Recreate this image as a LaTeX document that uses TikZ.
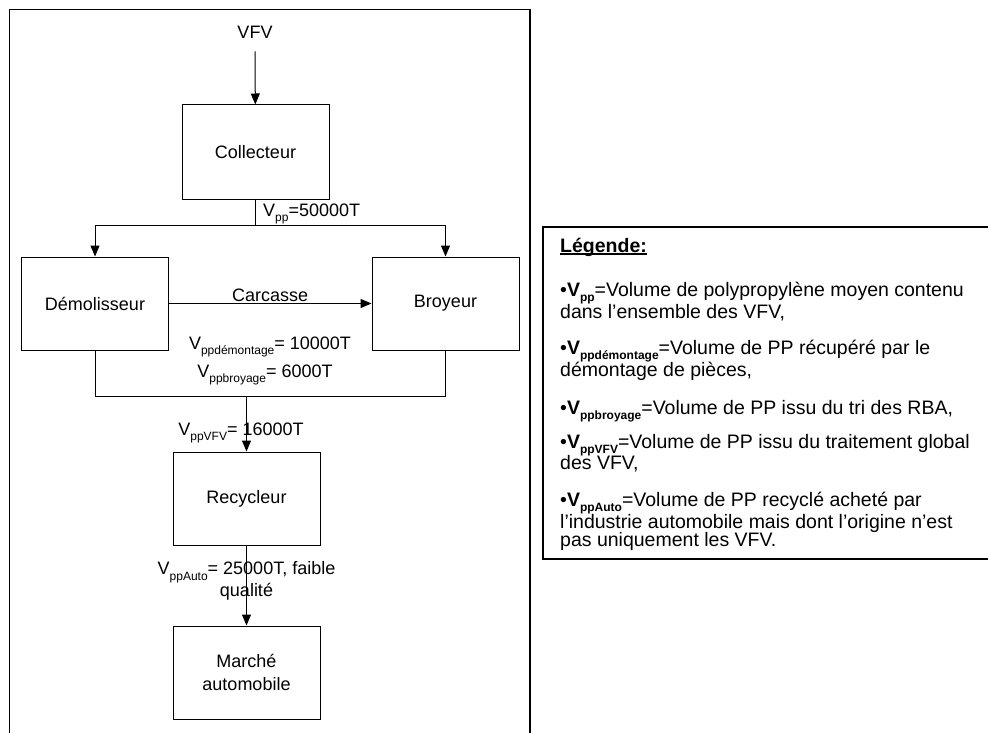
\documentclass[tikz,border=0pt]{standalone}
\usepackage{fontspec}
\setmainfont{Liberation Sans}
\usetikzlibrary{arrows.meta}
\newcommand{\ind}[1]{\raisebox{-0.3em}{\fontsize{12}{12}\selectfont #1}}
\newcommand{\souligne}[1]{\setbox0\hbox{#1}\rlap{\rule[-2.5pt]{\wd0}{1.3pt}}\box0}

\begin{document}
\begin{tikzpicture}[x=1pt,y=-1pt]
\tikzstyle{taille}=[minimum width=147pt, minimum height=93pt,anchor=center]

\tikzstyle{bloc}=[taille,rectangle,draw=black,line width=1pt,align=center,font=\fontsize{18}{23}\selectfont]
\tikzstyle{etiq}=[rectangle,inner sep=1pt,align=center,font=\fontsize{18}{22}\selectfont]
\tikzstyle{ligne}=[anchor=base west,inner sep=0pt,font=\fontsize{19.5}{22}\selectfont]
\tikzstyle{fleche}=[line width=1pt,-{Triangle[length=11pt,width=9pt]}]
\tikzstyle{trait}=[line width=1pt]

\useasboundingbox (0,0) rectangle (988,733);
\fill[white] (0,0) rectangle (988,733);

% cadre du schema
\draw[line width=1.3pt] (9.5,745) |- (530,9.5) -- (530,745);

\node [etiq] at (255,32) (vfv) {VFV};
\node [bloc,minimum height=94pt] at (255.5,152) (collecteur) {Collecteur};
\node [bloc] at (95,303.5) (demol) {Démolisseur};
\node [bloc] at (445.5,303.5) (broyeur) {Broyeur};
\node [bloc] at (246.5,498.5) (recycleur) {Recycleur};
\node [bloc] at (246.5,672.5) (marche) {Marché\\automobile};

\coordinate (partage) at (255.5,225);
\coordinate (jonction) at (246.5,396);

\draw [fleche,shorten <=12pt] (vfv) -- (collecteur);
\draw [trait] (collecteur) -- (partage);
\draw [fleche] (partage) -| (demol);
\draw [fleche] (partage) -| (broyeur);
\draw [fleche] (demol) -- node [etiq,above] (carcasse) {Carcasse} (broyeur);
\draw [trait] (demol) |- (jonction);
\draw [trait] (broyeur) |- (jonction);
\draw [fleche] (jonction) -- (recycleur);
\draw [fleche] (recycleur) -- (marche);

\node [etiq,anchor=west] at (262,214) (vpp) {V\ind{pp}=50000T};
\node [etiq] at (270,347) (vdem) {V\ind{ppdémontage}= 10000T};
\node [etiq] at (265,375) (vbro) {V\ind{ppbroyage}= 6000T};
\node [etiq] at (241,433) (vvfv) {V\ind{ppVFV}= 16000T};
\node [etiq] at (246.5,581) (vauto) {V\ind{ppAuto}= 25000T, faible\\qualité};

% legende
\draw [line width=2.5pt] (543,227) rectangle (1000,559);
\node [ligne] at (560,252) (titre) {\souligne{\textbf{Légende:}}};
\node [ligne] at (560,296) (leg1) {•\textbf{V\ind{pp}}=Volume de polypropylène moyen contenu};
\node [ligne] at (560,318) (leg1b) {dans l’ensemble des VFV,};
\node [ligne] at (560,354) (leg2) {•\textbf{V\ind{ppdémontage}}=Volume de PP récupéré par le};
\node [ligne] at (560,376) (leg2b) {démontage de pièces,};
\node [ligne] at (560,414) (leg3) {•\textbf{V\ind{ppbroyage}}=Volume de PP issu du tri des RBA,};
\node [ligne] at (560,448) (leg4) {•\textbf{V\ind{ppVFV}}=Volume de PP issu du traitement global};
\node [ligne] at (560,469) (leg4b) {des VFV,};
\node [ligne] at (560,506) (leg5) {•\textbf{V\ind{ppAuto}}=Volume de PP recyclé acheté par};
\node [ligne] at (560,528) (leg5b) {l’industrie automobile mais dont l’origine n’est};
\node [ligne] at (560,546) (leg5c) {pas uniquement les VFV.};
\end{tikzpicture}
\end{document}
